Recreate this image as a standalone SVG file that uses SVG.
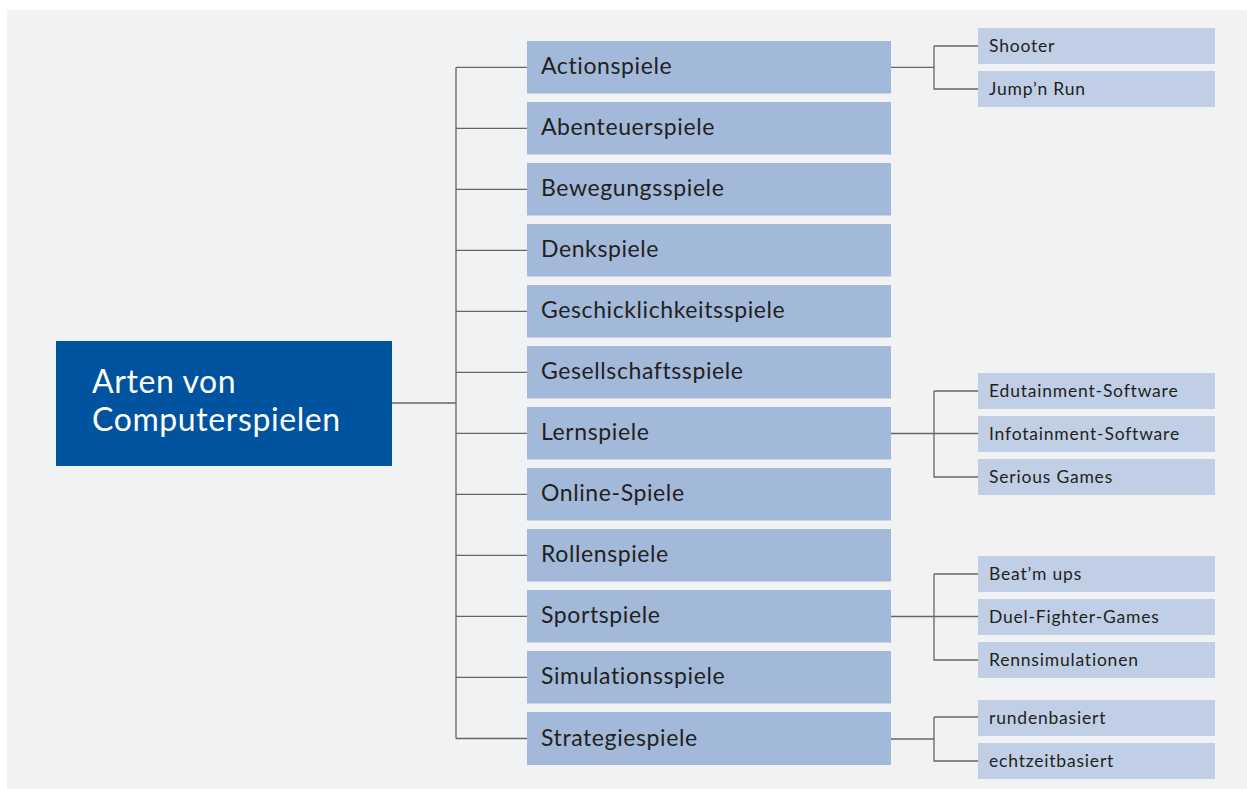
<svg xmlns="http://www.w3.org/2000/svg" width="1247" height="789" viewBox="0 0 1247 789">
<style>
.bg{fill:#f1f2f4}
.root{fill:#00539f}
.l1{fill:#a3b9da}
.l2{fill:#c0cfe6}
.rt{font-family:Lato,"Liberation Sans",sans-serif;font-size:32px;letter-spacing:0.6px;fill:#ffffff}
.t1{font-family:Lato,"Liberation Sans",sans-serif;font-size:23px;letter-spacing:0.6px;fill:#231f20}
.t2{font-family:Lato,"Liberation Sans",sans-serif;font-size:17.5px;letter-spacing:0.8px;fill:#231f20}
.c{fill:none;stroke:#666666;stroke-width:1.3}
</style>
<rect class="bg" x="7" y="10" width="1240" height="779"/>
<g id="connectors">
<path class="c" d="M392 403H456M456 67.3V738.5"/>
<path class="c" d="M456 67.3H527M456 128.3H527M456 189.3H527M456 250.3H527M456 311.3H527M456 372.3H527M456 433.3H527M456 494.3H527M456 555.3H527M456 616.3H527M456 677.3H527M456 738.5H527"/>
<path class="c" d="M891 67.3H934M934 46V89H978M934 46H978"/>
<path class="c" d="M891 433.5H978M934 391V477H978M934 391H978"/>
<path class="c" d="M891 616.5H978M934 574V660H978M934 574H978"/>
<path class="c" d="M891 739H934M934 717V761H978M934 717H978"/>
</g>
<g id="root"><rect class="root" x="56" y="341" width="336" height="125"/><text class="rt" x="92" y="393">Arten von</text><text class="rt" x="92" y="431">Computerspielen</text></g>
<g id="n1"><rect class="l1" x="527" y="41" width="364" height="52.5"/><text class="t1" x="541" y="74">Actionspiele</text></g>
<g id="n2"><rect class="l1" x="527" y="102" width="364" height="52.5"/><text class="t1" x="541" y="135">Abenteuerspiele</text></g>
<g id="n3"><rect class="l1" x="527" y="163" width="364" height="52.5"/><text class="t1" x="541" y="196">Bewegungsspiele</text></g>
<g id="n4"><rect class="l1" x="527" y="224" width="364" height="52.5"/><text class="t1" x="541" y="257">Denkspiele</text></g>
<g id="n5"><rect class="l1" x="527" y="285" width="364" height="52.5"/><text class="t1" x="541" y="318">Geschicklichkeitsspiele</text></g>
<g id="n6"><rect class="l1" x="527" y="346" width="364" height="52.5"/><text class="t1" x="541" y="379">Gesellschaftsspiele</text></g>
<g id="n7"><rect class="l1" x="527" y="407" width="364" height="52.5"/><text class="t1" x="541" y="440">Lernspiele</text></g>
<g id="n8"><rect class="l1" x="527" y="468" width="364" height="52.5"/><text class="t1" x="541" y="501">Online-Spiele</text></g>
<g id="n9"><rect class="l1" x="527" y="529" width="364" height="52.5"/><text class="t1" x="541" y="562">Rollenspiele</text></g>
<g id="n10"><rect class="l1" x="527" y="590" width="364" height="52.5"/><text class="t1" x="541" y="623">Sportspiele</text></g>
<g id="n11"><rect class="l1" x="527" y="651" width="364" height="52.5"/><text class="t1" x="541" y="684">Simulationsspiele</text></g>
<g id="n12"><rect class="l1" x="527" y="712" width="364" height="53"/><text class="t1" x="541" y="745.5">Strategiespiele</text></g>
<g id="s1"><rect class="l2" x="978" y="28" width="237" height="36"/><text class="t2" x="989" y="51.5">Shooter</text></g>
<g id="s2"><rect class="l2" x="978" y="71" width="237" height="36"/><text class="t2" x="989" y="94.5">Jump’n Run</text></g>
<g id="s3"><rect class="l2" x="978" y="373" width="237" height="36"/><text class="t2" x="989" y="396.5">Edutainment-Software</text></g>
<g id="s4"><rect class="l2" x="978" y="416" width="237" height="36"/><text class="t2" x="989" y="439.5">Infotainment-Software</text></g>
<g id="s5"><rect class="l2" x="978" y="459" width="237" height="36"/><text class="t2" x="989" y="482.5">Serious Games</text></g>
<g id="s6"><rect class="l2" x="978" y="556" width="237" height="36"/><text class="t2" x="989" y="579.5">Beat’m ups</text></g>
<g id="s7"><rect class="l2" x="978" y="599" width="237" height="36"/><text class="t2" x="989" y="622.5">Duel-Fighter-Games</text></g>
<g id="s8"><rect class="l2" x="978" y="642" width="237" height="36"/><text class="t2" x="989" y="665.5">Rennsimulationen</text></g>
<g id="s9"><rect class="l2" x="978" y="700" width="237" height="36"/><text class="t2" x="989" y="723.5">rundenbasiert</text></g>
<g id="s10"><rect class="l2" x="978" y="743" width="237" height="36"/><text class="t2" x="989" y="766.5">echtzeitbasiert</text></g>
</svg>
